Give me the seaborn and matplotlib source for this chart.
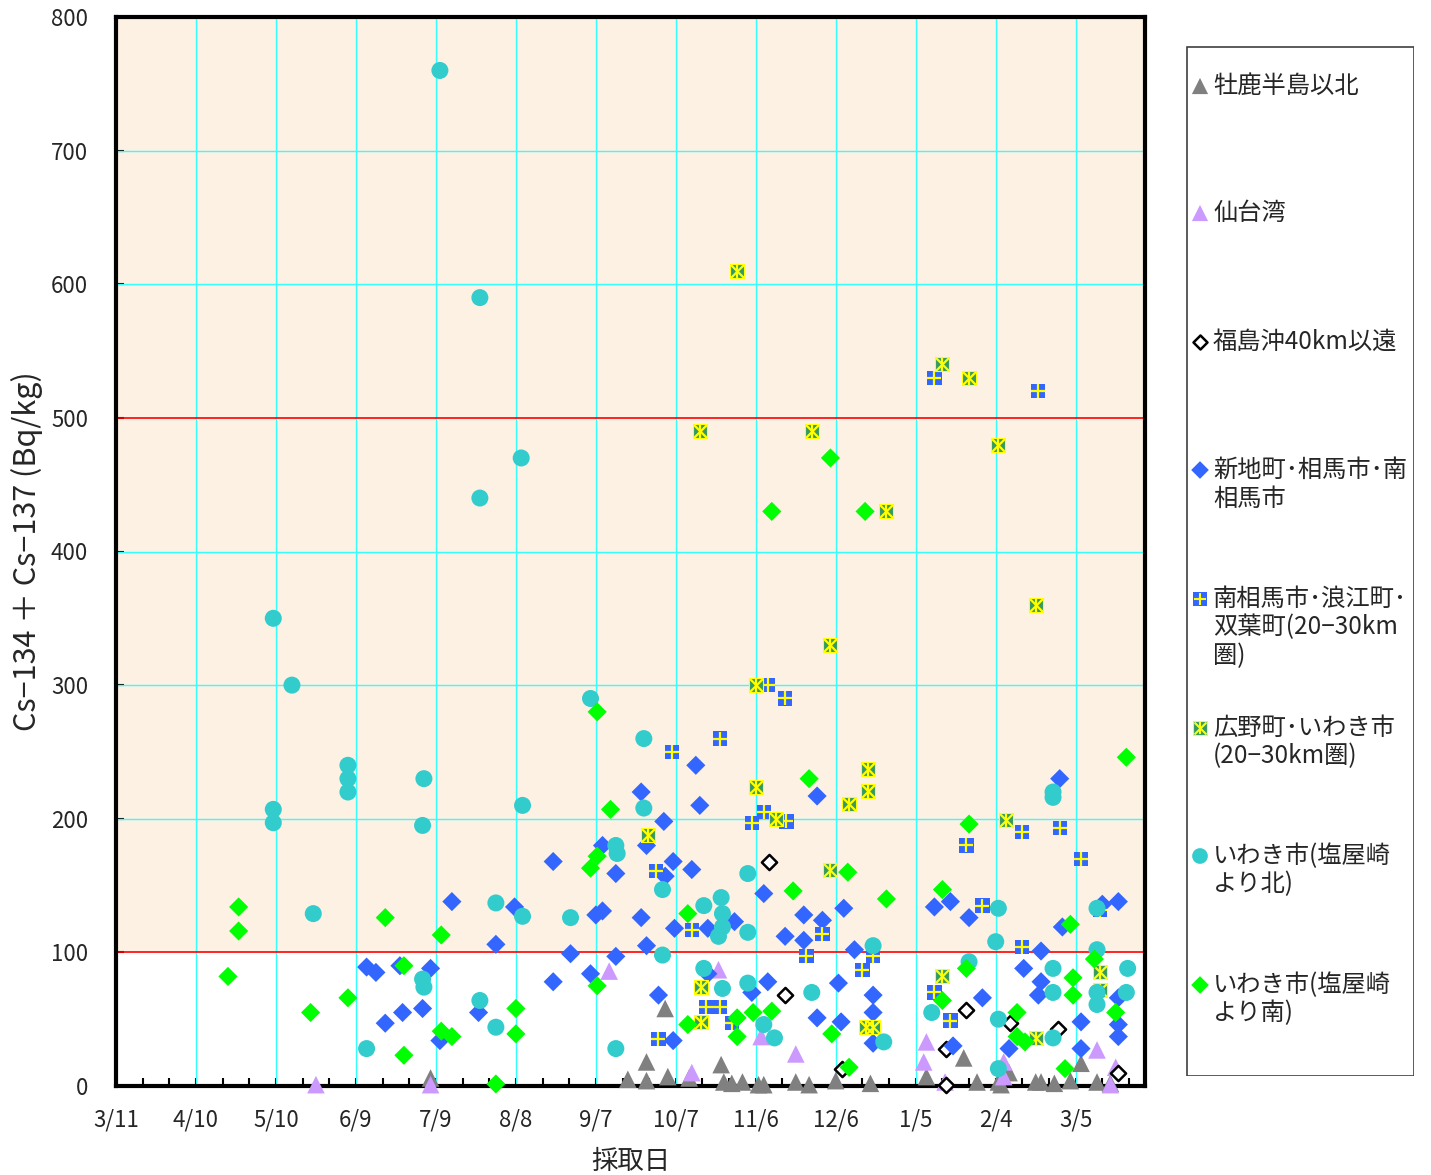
import numpy as np
import pandas as pd
import seaborn as sns
import matplotlib.pyplot as plt
from matplotlib.patches import Rectangle

# x = days since 2011-03-11, y = Cs-134 + Cs-137 (Bq/kg)
start = pd.Timestamp('2011-03-11')

oshika_days = [118, 192, 199, 199, 206, 207, 215, 227, 228, 231, 235, 241, 243, 255, 260,
               270, 283, 304, 318, 323, 331, 332, 335, 345, 347, 352, 358, 362, 368, 373]
oshika_vals = [6, 5, 18, 4, 58, 7, 6, 16, 3, 2, 3, 1, 1, 3, 1,
               4, 2, 7, 21, 3, 3, 1, 10, 3, 3, 2, 4, 17, 3, 2]

sendai_days = [75, 118, 185, 216, 226, 242, 255, 303, 304, 311, 333, 333, 368, 373, 375]
sendai_vals = [1, 1, 86, 10, 87, 37, 24, 18, 33, 3, 18, 7, 27, 1, 14]

offshore_days = [245, 251, 272.5, 311.5, 311.5, 319, 335.5, 353.5, 376]
offshore_vals = [168, 68, 13, 28, 1, 57, 47, 43, 10]

soma_days = [94, 97.5, 101, 107.5, 106.5, 118, 115, 121.5, 126, 136, 142.5, 149.5, 164, 164,
             170.5, 178, 182.5, 180, 182.5, 187.5, 187.5, 197, 197, 199, 199, 205.5, 206, 203.5,
             209, 209.5, 209, 216, 217.5, 219, 222, 222, 232, 238.5, 243, 244.5, 251, 258, 258,
             263, 263, 265, 271, 273, 272, 277, 284, 284, 284, 307, 313, 320, 314, 325, 335,
             340.5, 347, 347, 346, 354, 355, 362, 362, 370, 376, 376, 376, 376]
soma_vals = [89, 85, 47, 55, 90, 88, 58, 34, 138, 55, 106, 134, 168, 78,
             99, 84, 180, 128, 131, 159, 97, 220, 126, 180, 105, 198, 157, 68,
             168, 118, 34, 162, 240, 210, 118, 84, 123, 70, 144, 78, 112, 128, 109,
             217, 51, 124, 77, 133, 48, 102, 68, 55, 32, 134, 138, 126, 30, 66, 28,
             88, 101, 78, 68, 230, 119, 48, 28, 136, 138, 66, 46, 37]

minami_days = [208.5, 226.5, 244.5, 251, 238.5, 243, 251.5, 202.5, 216, 203.5, 221.5, 226.5,
               231, 259, 265, 280, 284, 307, 346, 319, 340, 354, 362, 325, 340, 307, 313, 369]
minami_vals = [250, 260, 300, 290, 197, 205, 198, 161, 117, 35, 59, 59,
               47, 97, 114, 87, 97, 530, 520, 180, 190, 193, 170, 135, 104, 70, 49, 132]

hirono_days = [233, 219, 261, 310, 320, 331, 289, 345, 268, 240, 240, 282, 275, 282,
               199.5, 268, 334, 247.5, 219.5, 219.5, 310, 369, 281.5, 284, 345, 369]
hirono_vals = [610, 490, 490, 540, 530, 480, 430, 360, 330, 300, 224, 237, 211, 221,
               188, 162, 199, 200, 74, 48, 82, 85, 44, 44, 36, 72]

iwaki_n_days = [121.5, 136.5, 136.5, 152, 59, 66, 59, 59, 74, 87, 87, 87, 115.5, 115, 115,
                115.5, 94, 136.5, 142.5, 152.5, 152.5, 142.5, 170.5, 178, 187.5, 188, 198,
                198, 205, 205, 187.5, 220.5, 227, 227.5, 227.5, 226, 237, 237, 220.5, 227.5,
                237, 243, 247, 261, 351.5, 351.5, 331, 330, 368, 368, 320, 284, 288, 306,
                331, 351.5, 351.5, 351.5, 368, 368, 379.5, 379, 331]
iwaki_n_vals = [760, 590, 440, 470, 350, 300, 207, 197, 129, 240, 230, 220, 230, 195, 80,
                74, 28, 64, 137, 127, 210, 44, 126, 290, 180, 174, 260,
                208, 147, 98, 28, 135, 141, 129, 119, 112, 159, 115, 88, 73,
                77, 46, 36, 70, 220, 216, 133, 108, 133, 102, 93, 105, 33, 55,
                50, 88, 70, 36, 70, 61, 88, 70, 13]

iwaki_s_days = [42, 46, 46, 73, 87, 101, 108, 108, 122, 122, 126, 142.5, 150, 150, 180.5,
                185.5, 180.5, 178, 180.5, 214.5, 214.5, 233, 233, 239, 246, 254, 260, 268,
                246, 281, 274.5, 289, 310, 320, 319, 310, 268.5, 275, 338, 338, 341, 358,
                367, 359, 359, 375, 356, 379]
iwaki_s_vals = [82, 134, 116, 55, 66, 126, 90, 23, 113, 41, 37, 1.5, 58, 39, 280,
                207, 172, 163, 75, 129, 46, 51, 37, 55, 56, 146, 230, 470,
                430, 430, 160, 140, 147, 196, 88, 64, 39, 14, 55, 37, 33, 121,
                95, 81, 68, 55, 13, 246]

labels = ['牡鹿半島以北', '仙台湾', '福島沖40km以遠', '新地町･相馬市･南\n相馬市',
          '南相馬市･浪江町･\n双葉町(20−30km\n圏)', '広野町･いわき市\n(20−30km圏)',
          'いわき市(塩屋崎\nより北)', 'いわき市(塩屋崎\nより南)']

tick_days = list(range(0, 361, 30))
tick_labels = [f'{d.month}/{d.day}' for d in (start + pd.to_timedelta(tick_days, unit='D'))]

# marker styles, in drawing order (same as legend)
styles = [
    dict(marker='^', color='#808080', ec='none', s=160, lw=0, over=None),
    dict(marker='^', color='#CC99FF', ec='none', s=160, lw=0, over=None),
    dict(marker='D', color='white', ec='black', s=60, lw=1.8, over=None),
    dict(marker='D', color='#3366FF', ec='none', s=95, lw=0, over=None),
    dict(marker='s', color='#3366FF', ec='none', s=105, lw=0, over=['+']),
    dict(marker='s', color='#339966', ec='#FFFF00', s=105, lw=0.8, over=['x', '|']),
    dict(marker='o', color='#33CCCC', ec='none', s=150, lw=0, over=None),
    dict(marker='D', color='#00FF00', ec='none', s=95, lw=0, over=None),
]
series = [(oshika_days, oshika_vals), (sendai_days, sendai_vals),
          (offshore_days, offshore_vals), (soma_days, soma_vals),
          (minami_days, minami_vals), (hirono_days, hirono_vals),
          (iwaki_n_days, iwaki_n_vals), (iwaki_s_days, iwaki_s_vals)]

sns.set_theme(style='white')
plt.rcParams['font.family'] = ['Noto Sans CJK JP', 'DejaVu Sans']
plt.rcParams['axes.unicode_minus'] = True

fig = plt.figure(figsize=(14.31, 11.75), dpi=100)
ax = fig.add_axes([116 / 1431, 89 / 1175, 1029 / 1431, 1069 / 1175])

# background band above 100 Bq/kg and grid
ax.axhspan(100, 800, color='#FDF1E3', zorder=0, lw=0)
for d in tick_days[1:]:
    ax.axvline(d, color='#33FFFF', lw=1.0, zorder=1)
for v in [200, 300, 400, 600, 700]:
    ax.axhline(v, color='#33FFFF', lw=1.0, zorder=1)
for v in [100, 500]:
    ax.axhline(v, color='#FF0000', lw=1.2, zorder=1)

for i, ((days, vals), st) in enumerate(zip(series, styles)):
    df = pd.DataFrame({'day': days, 'value': vals})
    sns.scatterplot(data=df, x='day', y='value', marker=st['marker'], color=st['color'],
                    edgecolor=st['ec'], s=st['s'], linewidth=st['lw'], ax=ax,
                    zorder=3 + i * 2, legend=False, clip_on=False)
    if st['over']:
        for m in st['over']:
            ax.scatter(df['day'], df['value'], marker=m, color='#FFFF00',
                       s=st['s'] * 0.85, linewidths=1.6, zorder=4 + i * 2, clip_on=False)

ax.set_xlim(0, 386)
ax.set_ylim(0, 800)
ax.set_xticks(tick_days)
ax.set_xticklabels(tick_labels)
ax.set_xticks(range(0, 386, 10), minor=True)
ax.set_yticks(range(0, 801, 100))
ax.tick_params(axis='x', which='both', direction='in', length=6, width=1.5,
               color='black', labelsize=16, pad=16, bottom=True)
ax.tick_params(axis='y', direction='in', length=6, width=1.5, color='black',
               labelsize=16, pad=20, left=True)
for sp in ax.spines.values():
    sp.set_color('black')
    sp.set_linewidth(3)
    sp.set_zorder(2.5)
ax.set_xlabel('採取日', fontsize=19, labelpad=12)
ax.set_ylabel('Cs−134 ＋ Cs−137 (Bq/kg)', fontsize=22, labelpad=6)

# legend box drawn in its own axes (pixel-like coordinates)
lax = fig.add_axes([1186 / 1431, 99 / 1175, 228 / 1431, 1030 / 1175])
lax.set_xlim(0, 228)
lax.set_ylim(1030, 0)
lax.axis('off')
lax.add_patch(Rectangle((0.5, 0.5), 227, 1029, fill=False, ec='#404040', lw=1.2))
row_y = [40, 167, 296, 424, 553, 682, 810, 939]
for y, lab, st in zip(row_y, labels, styles):
    lax.scatter([14], [y], marker=st['marker'], color=st['color'], edgecolors=st['ec'],
                s=st['s'] * 0.85, linewidths=st['lw'], clip_on=False)
    if st['over']:
        for m in st['over']:
            lax.scatter([14], [y], marker=m, color='#FFFF00', s=st['s'] * 0.7,
                        linewidths=1.5, clip_on=False)
    lax.text(27, y - 13, lab, fontsize=17.5, va='top', ha='left', linespacing=1.12)

fig.savefig('out.png', dpi=100, facecolor='white')
